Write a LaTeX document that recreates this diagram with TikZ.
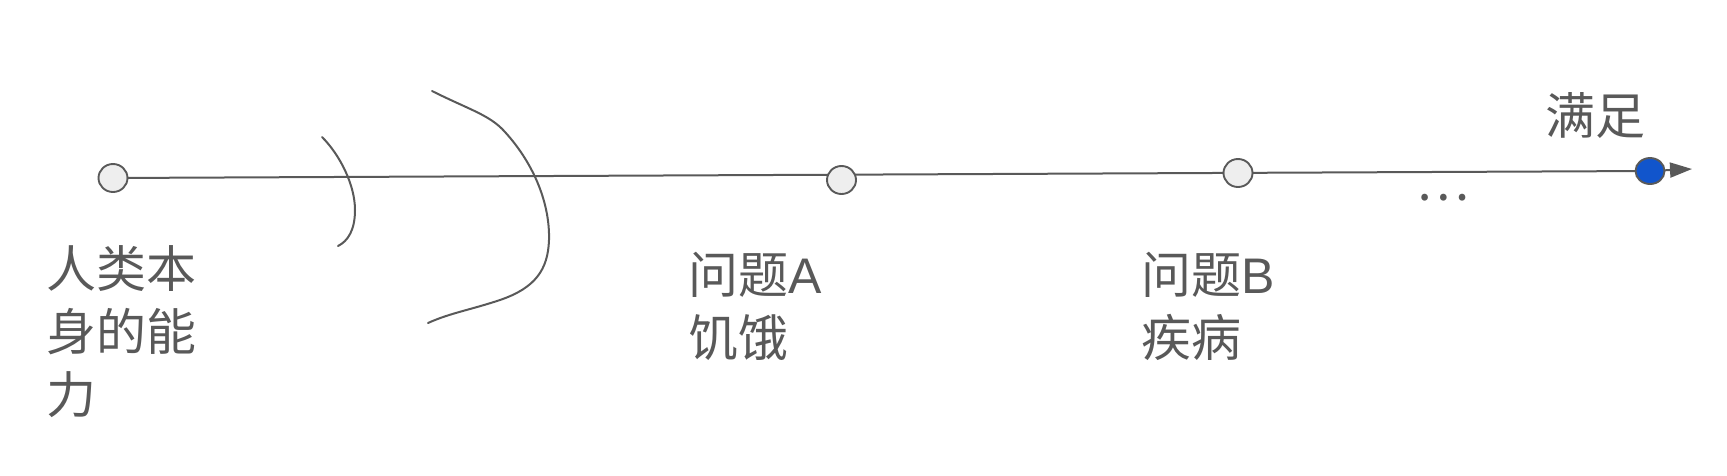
\documentclass[tikz,border=0pt]{standalone}
\usepackage{fontspec}
\newfontfamily\cjk{Noto Sans CJK SC}
\newfontfamily\latinsans{Liberation Sans}
\usetikzlibrary{arrows.meta,shapes.geometric}
\definecolor{ink}{HTML}{595959}
\definecolor{nodefill}{HTML}{EEEEEE}
\definecolor{goalblue}{HTML}{1155CC}
\tikzset{
  dotnode/.style={ellipse,draw=ink,line width=1.9pt,fill=nodefill,minimum width=29pt,minimum height=28pt,inner sep=0pt},
  goalnode/.style={dotnode,fill=goalblue,minimum height=26pt},
  label text/.style={text=ink,font=\cjk\fontsize{50}{63}\selectfont,align=left,inner sep=0pt,anchor=north west},
  axis line/.style={draw=ink,line width=2pt},
  stroke/.style={draw=ink,line width=2pt,line cap=round}
}
\begin{document}
\begin{tikzpicture}[x=1pt,y=-1pt]
\useasboundingbox (0,0) rectangle (1727,475);
% connectors first
\coordinate (start) at (113,178);
\coordinate (goalpt) at (1650,171);
\coordinate (tip) at (1692,169);
\draw[axis line] (start) -- (goalpt);
\draw[axis line,-{Triangle[length=22pt,width=15pt]}] (goalpt) -- (tip);
% nodes
\node[dotnode] (n0) at (start) {};
\node[dotnode] (na) at (841.5,180) {};
\node[dotnode] (nb) at (1238,173) {};
\node[goalnode] (ng) at (goalpt) {};
% curves
\draw[stroke] (322,137) .. controls (340,155) and (355,185) .. (355,210)
  .. controls (355,230) and (348,241) .. (338,246);
\draw[stroke] (432,91) .. controls (470,110) and (490,115) .. (505,132)
  .. controls (535,165) and (550,205) .. (549,240)
  .. controls (548,270) and (535,288) .. (500,300)
  .. controls (470,310) and (450,313) .. (428,323);
% labels
\node[label text] (t0) at (46,245) {人类本\\身的能\\力};
\node[label text] (ta) at (688,252) {问题{\latinsans A}\\饥饿};
\node[label text] (tb) at (1141,252) {问题{\latinsans B}\\疾病};
\node[label text] (tg) at (1545,92) {满足};
\node[text=ink,font=\cjk\fontsize{50}{63}\selectfont,inner sep=0pt] (more) at (1443,198) {…};
\end{tikzpicture}
\end{document}
